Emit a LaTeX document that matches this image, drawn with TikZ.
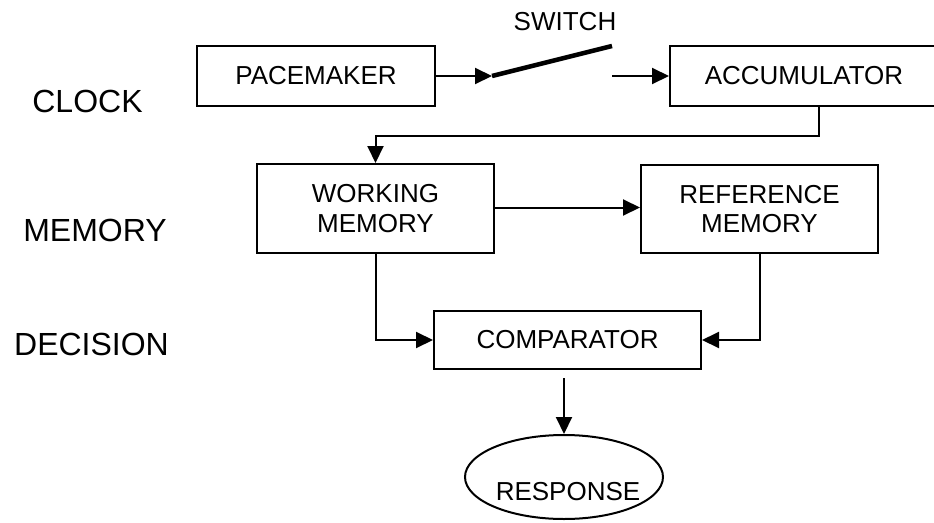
\documentclass[tikz,border=0pt]{standalone}
\usepackage{fontspec}
\setmainfont{Liberation Sans}
\usetikzlibrary{arrows.meta,shapes.geometric,calc}
\begin{document}
\begin{tikzpicture}[x=1pt,y=-1pt,
  boxtext/.style={font=\fontsize{26}{29.5}\selectfont, align=center},
  box/.style={draw, line width=2pt, inner sep=0pt, boxtext},
  lab/.style={font=\fontsize{32}{36}\selectfont, inner sep=0pt},
  conn/.style={line width=2pt},
  arr/.style={conn, -{Triangle[length=17pt,width=16pt]}},
  switchline/.style={line width=4.5pt}
]
\useasboundingbox (0,0) rectangle (934,522);
\begin{scope}
\clip (0,0) rectangle (934,522);
% left labels
\node[lab] (clock) at (87.5,101.5) {CLOCK};
\node[lab] (memory) at (95,230) {MEMORY};
\node[lab] (decision) at (91.5,344) {DECISION};
% boxes
\node[box, minimum width=238pt, minimum height=60pt] (pm) at (316,76) {PACEMAKER};
\node[box, minimum width=268pt, minimum height=60pt] (acc) at (804,76) {ACCUMULATOR};
\node[box, minimum width=237pt, minimum height=89pt] (wm) at (375.5,208.5) {WORKING\\MEMORY};
\node[box, minimum width=237pt, minimum height=88pt] (rm) at (759.5,209) {REFERENCE\\MEMORY};
\node[box, minimum width=267pt, minimum height=58pt] (cmp) at (567.5,340) {COMPARATOR};
\node[draw, ellipse, line width=2pt, minimum width=198pt, minimum height=84pt, inner sep=0pt] (resp) at (564,477) {};
\node[boxtext, inner sep=0pt] (resptext) at (568,492) {RESPONSE};
% switch
\node[boxtext, inner sep=0pt] (swlabel) at (565,22) {SWITCH};
\coordinate (sw1) at (492,76);
\coordinate (sw2) at (612,46);
\coordinate (sw3) at (612,76);
\draw[arr] (pm.east) -- (sw1);
\draw[switchline] (sw1) -- (sw2);
\draw[arr] (sw3) -- (acc.west);
% memory connections
\draw[arr] ([xshift=15pt]acc.south) -- ++(0,29) -| (wm.north);
\draw[arr] ([yshift=1pt]wm.east) -- ([yshift=1pt]wm.east -| rm.west);
\draw[arr] (wm.south) |- (cmp.west);
\draw[arr] (rm.south) |- (cmp.east);
\draw[arr] ([yshift=-8pt]cmp.south -| resp.north) -- (resp.north);
\end{scope}
\end{tikzpicture}
\end{document}
